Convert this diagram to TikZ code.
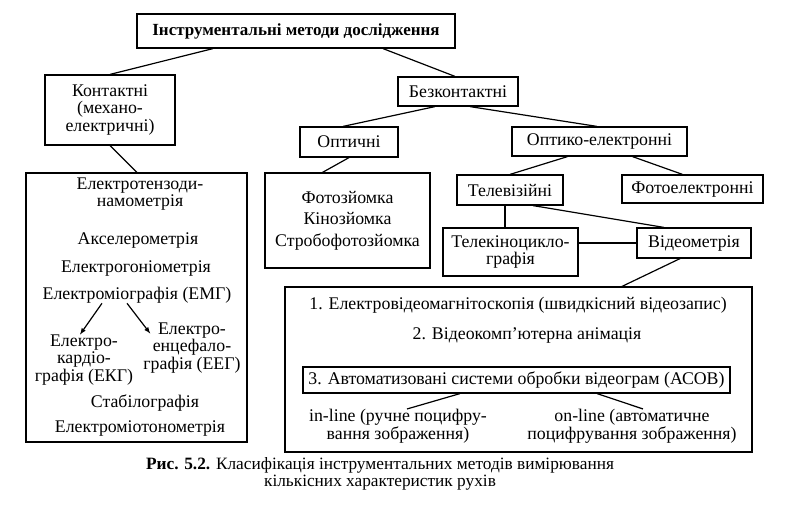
\documentclass[tikz,border=0pt]{standalone}
\usepackage{fontspec}
\setmainfont{Liberation Serif}

\begin{document}
\begin{tikzpicture}[x=1pt, y=-1pt, font=\fontsize{17.8}{17.5}\selectfont,
    box/.style={draw, line width=1.2pt, inner sep=0pt, align=center},
    txt/.style={inner sep=0pt, align=center},
    link/.style={line width=1.2pt}]
    \useasboundingbox (0,0) rectangle (808,522);

    % Top levels
    \node[box, minimum width=318, minimum height=34, font=\fontsize{17}{17}\selectfont\bfseries] (instr) at (296,31) {Інструментальні методи дослідження};
    \node[box, minimum width=130, minimum height=70, font=\fontsize{17.8}{17.5}\selectfont] (contact) at (110,110) {Контактні\\(механо-\\електричні)};
    \node[box, minimum width=120, minimum height=29] (noncontact) at (458,91.5) {Безконтактні};
    \node[box, minimum width=98, minimum height=30] (optic) at (349,142) {Оптичні};
    \node[box, minimum width=175, minimum height=29] (optel) at (599.5,141.5) {Оптико-електронні};
    \node[box, minimum width=106, minimum height=30] (tv) at (510,190) {Телевізійні};
    \node[box, minimum width=141, minimum height=28] (photoel) at (692.5,189) {Фотоелектронні};
    \node[box, minimum width=165, minimum height=95] (photo) at (347.5,220.5) {Фотозйомка\\[4pt]Кінозйомка\\[4pt]Стробофотозйомка};
    \node[box, minimum width=135, minimum height=48] (tvcine) at (510.5,252) {Телекіноцикло-\\графія};
    \node[box, minimum width=114, minimum height=30] (videom) at (694,243) {Відеометрія};

    % Contact methods
    \node[box, minimum width=221, minimum height=269] (contlist) at (136.5,307.5) {};
    \node[txt] (tenzo) at (140,194) {Електротензоди-\\намометрія};
    \node[txt] (accel) at (138,240) {Акселерометрія};
    \node[txt] (gonio) at (136,268) {Електрогоніометрія};
    \node[txt] (emg) at (137,295) {Електроміографія (ЕМГ)};
    \node[txt] (ekg) at (84,360) {Електро-\\кардіо-\\графія (ЕКГ)};
    \node[txt] (eeg) at (192,348) {Електро-\\енцефало-\\графія (ЕЕГ)};
    \node[txt] (stab) at (145,403) {Стабілографія};
    \node[txt] (tono) at (140,428) {Електроміотонометрія};

    % Video methods
    \node[box, minimum width=467, minimum height=165] (videobox) at (518.5,369.5) {};
    \node[txt] (evms) at (518,305) {1. Електровідеомагнітоскопія (швидкісний відеозапис)};
    \node[txt] (anim) at (527,335) {2. Відеокомпʼютерна анімація};
    \node[box, minimum width=427, minimum height=26] (asov) at (516.5,380) {3. Автоматизовані системи обробки відеограм (АСОВ)};
    \node[txt] (inline) at (398,426) {in-line (ручне поцифру-\\вання зображення)};
    \node[txt] (online) at (632,426) {on-line (автоматичне\\поцифрування зображення)};

    % Caption
    \node[txt, font=\fontsize{17.3}{17}\selectfont] (caption) at (380,474) {\textbf{Рис. 5.2.} Класифікація інструментальних методів вимірювання\\кількісних характеристик рухів};

    % Connectors
    \draw[link] ([xshift=-83]instr.south) -- (contact.north);
    \draw[link] ([xshift=87]instr.south) -- ([xshift=-3]noncontact.north);
    \draw[link] ([xshift=-23]noncontact.south) -- ([xshift=-6]optic.north);
    \draw[link] ([xshift=12]noncontact.south) -- ([xshift=-2.5]optel.north);
    \draw[link] (optic.south) -- ([xshift=-25]photo.north);
    \draw[link] ([xshift=-32]optel.south) -- (tv.north);
    \draw[link] ([xshift=33]optel.south) -- ([xshift=-10]photoel.north);
    \draw[link] ([xshift=-5]tv.south) -- ([xshift=-5]tv.south |- tvcine.north);
    \draw[link] ([xshift=23]tv.south) -- ([xshift=-30]videom.north);
    \draw[link] (videom.west) -- (videom.west -| tvcine.east);
    \draw[link] ([xshift=-14]videom.south) -- ([xshift=103.5]videobox.north);
    \draw[link] (contact.south) -- ([xshift=0.5]contlist.north);
    \draw[link, -latex] ([xshift=-35]emg.south) -- ([xshift=-4]ekg.north);
    \draw[link, -latex] ([xshift=-10]emg.south) -- ([xshift=7,yshift=-11]eeg.north west);
    \draw[link] ([xshift=-56.5]asov.south) -- ([xshift=9]inline.north);
    \draw[link] ([xshift=80.5]asov.south) -- ([xshift=11]online.north);

\end{tikzpicture}
\end{document}
